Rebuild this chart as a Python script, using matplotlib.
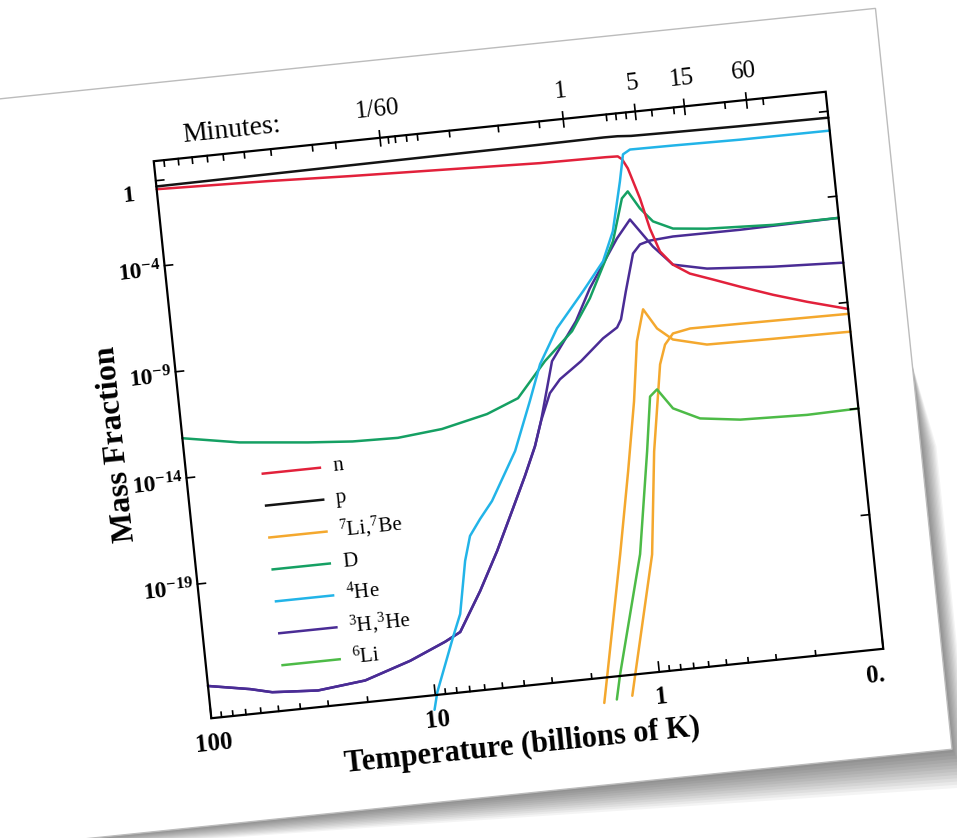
#!/usr/bin/env python3
# Mass fractions of the light nuclei during Big Bang nucleosynthesis,
# drawn on a slightly tilted "sheet of paper" like the scanned figure.

import numpy as np
import matplotlib
matplotlib.use("Agg")
from matplotlib import pyplot as plt
from matplotlib.transforms import Affine2D, blended_transform_factory
from matplotlib.patches import Rectangle, Polygon
from matplotlib.lines import Line2D

plt.rcParams["font.family"] = ["Liberation Serif", "DejaVu Serif"]
plt.rcParams["mathtext.fontset"] = "custom"
plt.rcParams["mathtext.rm"] = "Liberation Serif"
plt.rcParams["mathtext.it"] = "Liberation Serif:italic"
plt.rcParams["mathtext.bf"] = "Liberation Serif:bold"

# ---- values: log10(T / 1e9 K) and log10(mass fraction)
n_logT = [2.0, 1.5, 1.14, 0.7, 0.295, 0.0, -0.052, -0.07, -0.091, -0.131, -0.161,
          -0.195, -0.246, -0.317, -0.417, -0.532, -0.675, -0.822, -1.0]
n_logX = [-0.40, -0.56, -0.72, -0.88, -1.03, -1.07, -1.09, -1.25, -1.70, -3.16, -4.61,
          -5.72, -6.40, -6.90, -7.29, -7.75, -8.29, -8.78, -9.31]

p_logT = [2.0, 1.0, 0.3, 0.0, -0.06, -0.12, -0.3, -0.6, -1.0]
p_logX = [-0.27, -0.21, -0.17, -0.14, -0.15, -0.20, -0.23, -0.27, -0.30]

li7_logT = [0.257, 0.232, 0.119, 0.046, -0.012, -0.052, -0.094, -0.147, -0.212,
            -0.360, -0.655, -1.0]
li7_logX = [-26.5, -25.27, -19.65, -15.82, -12.59, -9.81, -8.34, -9.30, -9.89,
            -10.29, -10.34, -10.38]

be7_logT = [0.13, 0.107, -0.022, -0.078, -0.144, -0.175, -0.215, -0.293, -0.516, -1.0]
be7_logX = [-26.3, -25.31, -19.81, -15.02, -10.99, -10.09, -9.61, -9.46, -9.48, -9.54]

d_logT = [2.0, 1.75, 1.447, 1.25, 1.048, 0.849, 0.643, 0.499, 0.363, 0.230, 0.136,
          0.008, -0.051, -0.080, -0.126, -0.178, -0.263, -0.413, -0.707, -1.0]
d_logX = [-12.13, -12.6, -12.93, -13.1, -13.15, -12.95, -12.47, -11.88, -10.28, -9.02,
          -7.57, -5.03, -3.07, -2.77, -3.62, -4.29, -4.72, -4.89, -5.03, -5.02]

he4_logT = [1.01, 0.99, 0.895, 0.853, 0.807, 0.774, 0.722, 0.661, 0.536, 0.448, 0.386,
            0.295, 0.163, 0.061, 0.004, -0.050, -0.076, -0.109, -0.30, -0.60, -1.0]
he4_logX = [-26.0, -25.2, -22.7, -21.66, -19.21, -18.07, -17.33, -16.55, -14.33, -12.07,
            -10.40, -8.81, -7.21, -5.91, -4.56, -2.27, -1.02, -0.83, -0.85, -0.90, -0.91]

h3_logT = [2.0, 1.815, 1.719, 1.516, 1.303, 1.095, 0.932, 0.861, 0.754, 0.661, 0.577,
           0.504, 0.446, 0.408, 0.332, 0.208, 0.132, -0.011, -0.077, -0.116, -0.166,
           -0.246, -0.395, -0.687, -1.0]
h3_logX = [-23.8, -24.15, -24.40, -24.54, -24.30, -23.60, -22.88, -22.50, -20.68, -18.90,
           -17.11, -15.54, -14.20, -13.06, -10.32, -8.57, -7.11, -4.91, -4.09, -4.69,
           -5.46, -6.40, -6.75, -6.98, -7.13]

he3_logT = [2.0, 1.815, 1.719, 1.516, 1.303, 1.095, 0.932, 0.861, 0.754, 0.661, 0.577,
            0.504, 0.446, 0.408, 0.356, 0.305, 0.204, 0.096, 0.029, 0.008, -0.026,
            -0.075, -0.110, -0.155, -0.259, -0.559, -1.0]
he3_logX = [-23.8, -24.15, -24.40, -24.54, -24.30, -23.60, -22.88, -22.50, -20.68, -18.90,
            -17.11, -15.54, -14.20, -13.06, -11.80, -11.20, -10.46, -9.50, -9.06, -8.70,
            -7.42, -5.69, -5.30, -5.17, -5.09, -5.10, -5.02]

li6_logT = [0.20, 0.174, 0.031, -0.047, -0.085, -0.119, -0.181, -0.296, -0.473,
            -0.770, -1.0]
li6_logX = [-26.4, -25.24, -19.74, -14.98, -12.44, -12.14, -13.10, -13.70, -13.95,
            -14.05, -14.0]

RED, BLACK, ORANGE = "#e2213b", "#141414", "#f4a82e"
TEAL, CYAN, PURPLE, LGREEN = "#15a063", "#22b4e8", "#4a2c95", "#4dbb47"

curves = [
    (he3_logT, he3_logX, PURPLE), (h3_logT, h3_logX, PURPLE),
    (li7_logT, li7_logX, ORANGE), (be7_logT, be7_logX, ORANGE),
    (li6_logT, li6_logX, LGREEN), (d_logT, d_logX, TEAL),
    (n_logT, n_logX, RED), (he4_logT, he4_logX, CYAN), (p_logT, p_logX, BLACK),
]

legend_rows = [
    ("n", RED), ("p", BLACK), (r"$^{7}$Li,$^{7}$Be", ORANGE), ("D", TEAL),
    (r"$^{4}$He", CYAN), (r"$^{3}$H,$^{3}$He", PURPLE), (r"$^{6}$Li", LGREEN),
]

temp_major = [100, 10, 1, 0.1]
temp_labels = ["100", "10", "1", "0."]
frac_major = [0, -4, -9, -14, -19]
frac_labels = ["1", r"$\mathbf{10^{-4}}$", r"$\mathbf{10^{-9}}$",
               r"$\mathbf{10^{-14}}$", r"$\mathbf{10^{-19}}$"]
time_major = [1, 60, 300, 900, 3600]          # seconds
time_labels = ["1/60", "1", "5", "15", "60"]  # minutes
time_minor = [0.008, 0.011, 0.015, 0.021, 0.03, 0.048, 0.087, 0.22, 0.37, 1.2, 1.4,
              1.8, 2.3, 4.7, 14, 35, 157, 194, 243, 433, 708, 2218, 5210]


def time_to_temp(t):
    # roughly T ~ t^-1/2, fitted to where the minute ticks sit
    return 10 ** (0.99 - 0.46 * np.log10(t))


# ---- layout (pixels)
FW, FH = 957, 838
BOX_W, BOX_H = 675.5, 560.0
CX, CY = 518.5, 433.0
TILT = 5.9

fig = plt.figure(figsize=(FW / 100, FH / 100), dpi=100)
fig.patch.set_facecolor("white")
page = fig.add_axes([0, 0, 1, 1])
page.set_xlim(0, 1)
page.set_ylim(0, 1)
page.set_autoscale_on(False)
page.axis("off")

# hidden log-log axes that supply the scales; everything is drawn through it
ax = fig.add_axes([(CX - BOX_W / 2) / FW, (CY - BOX_H / 2) / FH, BOX_W / FW, BOX_H / FH])
ax.set_xscale("log")
ax.set_yscale("log")
ax.set_xlim(100, 0.1)
ax.set_ylim(10 ** -25.32, 10 ** 0.92)
ax.set_visible(False)

rot = Affine2D().rotate_deg_around(CX, CY, TILT)
xa = blended_transform_factory(ax.transData, ax.transAxes)
ya = blended_transform_factory(ax.transAxes, ax.transData)


def off(base, dx=0.0, dy=0.0):
    return base + Affine2D().translate(dx, dy) + rot


# sheet of paper with a soft shadow, heavier towards the lower right corner
L, R, B, T = -0.45, 1.086, -0.191, 1.139
for k in range(1, 13):
    dx, dy = 1.3 * k / BOX_W, 3.3 * k / BOX_H
    shadow = Polygon([(R, 0.5), (R + dx, 0.35), (R + dx, B - dy), (0.2, B - 0.45 * dy),
                      (L, B - 0.1 * dy), (L, B)],
                     transform=off(ax.transAxes), fc="black", alpha=0.042, lw=0, zorder=1)
    page.add_patch(shadow)
page.add_patch(Rectangle((L, B), R - L, T - B, transform=off(ax.transAxes),
                         fc="white", ec="#bcbcbc", lw=1.0, zorder=2))

# curves
clip = Rectangle((0, 0), 1, 1, transform=off(ax.transAxes))
for lt, lx, c in curves:
    line = Line2D(10 ** np.array(lt), 10 ** np.array(lx), transform=off(ax.transData),
                  color=c, lw=1.8, solid_joinstyle="round", solid_capstyle="round", zorder=4)
    page.add_line(line)
    line.set_clip_path(clip)

# frame
page.add_patch(Rectangle((0, 0), 1, 1, transform=off(ax.transAxes), fill=False,
                         ec="black", lw=1.6, zorder=6))

tick_kw = dict(color="black", lw=1.2, zorder=6)
# bottom axis: temperature
for t in temp_major:
    page.add_line(Line2D([t, t], [0, 10 / BOX_H], transform=off(xa), **tick_kw))
for d in [10, 1, 0.1]:
    for m in range(2, 10):
        page.add_line(Line2D([m * d, m * d], [0, 5 / BOX_H], transform=off(xa), **tick_kw))
for t, s in zip(temp_major, temp_labels):
    dx = -10 if s == "0." else 0
    page.text(t, 0, s, transform=off(xa, dx, -32), rotation=TILT, rotation_mode="anchor",
              ha="center", va="baseline", fontsize=18, fontweight="bold", zorder=7)

# left / right axes: mass fraction
for e in frac_major:
    v = 10.0 ** e
    page.add_line(Line2D([0, 8 / BOX_W], [v, v], transform=off(ya), **tick_kw))
    page.add_line(Line2D([1, 1 - 8 / BOX_W], [v, v], transform=off(ya), **tick_kw))
for e, s in zip(frac_major, frac_labels):
    if e == 0:
        dx, dy = -23, -18
    else:
        dx, dy = -4, -11
    page.text(0, 10.0 ** e, s, transform=off(ya, dx, dy), rotation=TILT,
              rotation_mode="anchor", ha="right", va="baseline", fontsize=17,
              fontweight="bold", zorder=7)

# top axis: time in minutes
for t in time_major:
    x = time_to_temp(t)
    page.add_line(Line2D([x, x], [1 - 8 / BOX_H, 1 + 7 / BOX_H], transform=off(xa), **tick_kw))
for t in time_minor:
    x = time_to_temp(t)
    page.add_line(Line2D([x, x], [1, 1 - 6 / BOX_H], transform=off(xa), **tick_kw))
for t, s in zip(time_major, time_labels):
    page.text(time_to_temp(t), 1, s, transform=off(xa, 0, 22), rotation=TILT,
              rotation_mode="anchor", ha="center", va="baseline", fontsize=18, zorder=7)
page.text(0.119, 1, "Minutes:", transform=off(ax.transAxes, 0, 16), rotation=TILT,
          rotation_mode="anchor", ha="center", va="baseline", fontsize=20, zorder=7)

# axis titles
page.text(0.4536, 0, "Temperature (billions of K)", transform=off(ax.transAxes, 0, -60),
          rotation=TILT, rotation_mode="anchor", ha="center", va="center",
          fontsize=22, fontweight="bold", zorder=7)
page.text(0, 0.505, "Mass Fraction", transform=off(ax.transAxes, -66, 0),
          rotation=90 + TILT, rotation_mode="anchor", ha="center", va="center",
          fontsize=23, fontweight="bold", zorder=7)

# legend, drawn by hand so it tilts with the plot
row_y = 0.425
for label, c in legend_rows:
    page.add_line(Line2D([0.113, 0.198], [row_y, row_y], transform=off(ax.transAxes),
                         color=c, lw=1.8, zorder=7))
    page.text(0.217, row_y, label, transform=off(ax.transAxes), rotation=TILT,
              rotation_mode="anchor", ha="left", va="center", fontsize=15, zorder=7)
    row_y -= 0.0573

fig.savefig("out.png", dpi=100)
